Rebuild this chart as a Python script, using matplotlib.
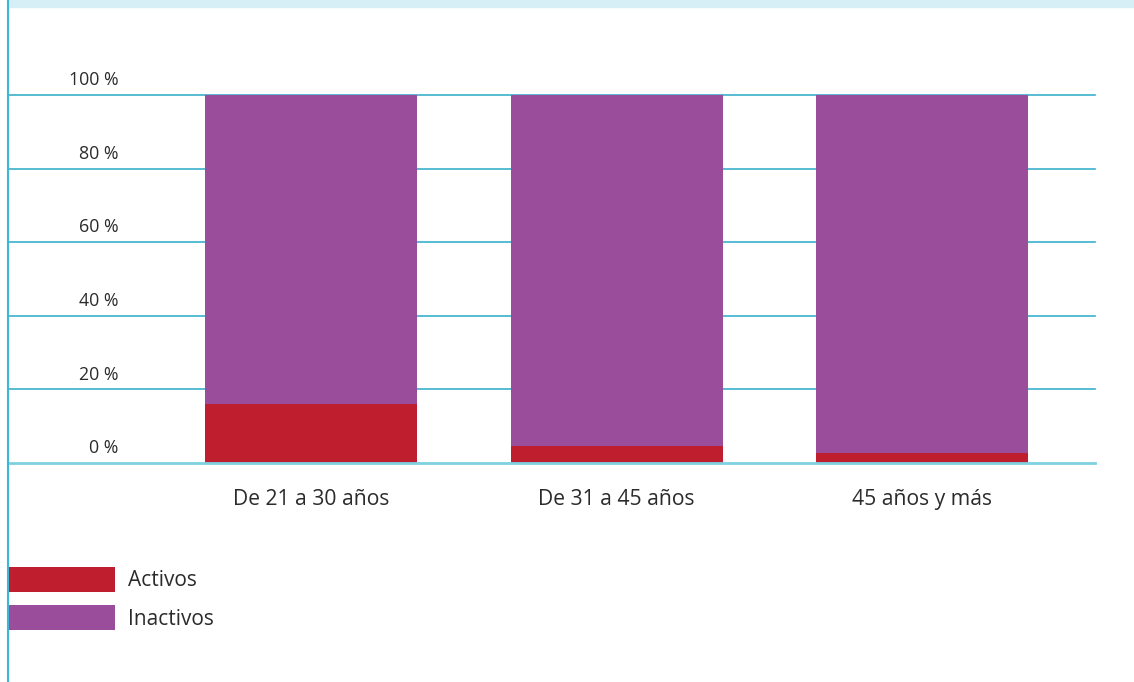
##############################################################################
# Activos / Inactivos por grupo de edad - barras apiladas 100 %
##############################################################################

import matplotlib.pyplot as plt
import numpy as np

##############################################################################
# Data
##############################################################################

categories = ["De 21 a 30 años", "De 31 a 45 años", "45 años y más"]
activos = [16.0, 4.6, 2.7]
inactivos = [100 - v for v in activos]
y_ticks = [0, 20, 40, 60, 80, 100]
y_tick_labels = ["0 %", "20 %", "40 %", "60 %", "80 %", "100 %"]

##############################################################################
# Style
##############################################################################

plt.rcParams["font.family"] = ["Open Sans", "DejaVu Sans"]
red = "#be1e2d"
purple = "#9a4d9b"
grid_color = "#3ab0cc"
text_color = "#2b2b2b"

W, H = 1134, 682
fig = plt.figure(figsize=(W / 100, H / 100), dpi=100)

# axes spans from the left rule to the end of the gridlines
ax = fig.add_axes([8 / W, 1 - 463 / H, (1095 - 8) / W, (463 - 95) / H])

x = np.arange(len(categories))
bar_width = 0.694

ax.bar(x, activos, width=bar_width, color=red, label="Activos", zorder=3)
ax.bar(x, inactivos, bottom=activos, width=bar_width, color=purple,
       label="Inactivos", zorder=3)

ax.set_xlim(-0.992, 2.566)
ax.set_ylim(0, 100)

for t in y_ticks[1:]:
    ax.axhline(t, color=grid_color, linewidth=1.2, zorder=1, clip_on=False)
ax.axhline(0, color="#7fd0e0", linewidth=2, zorder=4, clip_on=False)

for sp in ax.spines.values():
    sp.set_visible(False)
ax.set_xticks([])
ax.set_yticks([])

# y labels sit above each gridline, right aligned
ytrans = ax.get_yaxis_transform()
for t, lab in zip(y_ticks, y_tick_labels):
    ax.text(0.102, t + 4, lab, transform=ytrans, ha="right", va="center",
            fontsize=12.8, color=text_color, clip_on=False)

# category labels under the bars
for xi, cat in zip(x, categories):
    ax.text(xi, -9.8, cat, ha="center", va="center", fontsize=15.2,
            color=text_color, clip_on=False)

# top band and left rule
fig.patches.append(plt.Rectangle((8 / W, 1 - 7 / H), 1, 7 / H,
                                 transform=fig.transFigure,
                                 color="#d6eef5", zorder=0))
fig.lines.append(plt.Line2D([8 / W, 8 / W], [0, 1], transform=fig.transFigure,
                            color="#3ab8d8", linewidth=1.5))

leg = ax.legend(loc="upper left", bbox_to_anchor=(8 / W, 1 - 567 / H),
                bbox_transform=fig.transFigure, frameon=False, fontsize=15,
                handlelength=5.15, handleheight=1.45, labelspacing=0.65,
                handletextpad=0.62, borderpad=0, borderaxespad=0)
for txt in leg.get_texts():
    txt.set_color(text_color)

fig.savefig("out.png", dpi=100)
